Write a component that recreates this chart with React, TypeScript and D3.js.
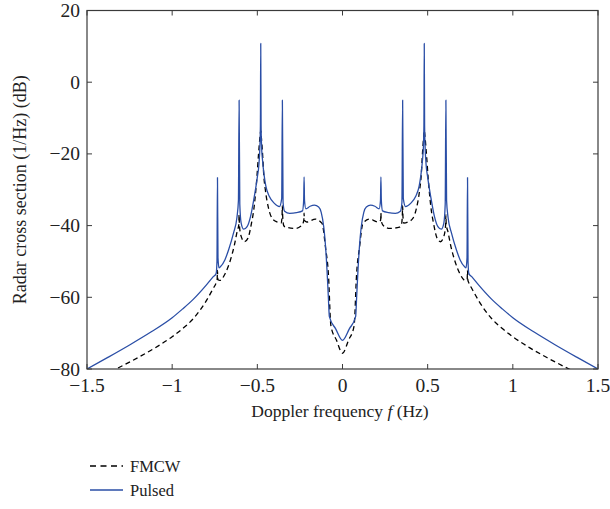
import React from "react";
import * as d3 from "d3";

// Pulsed series: [frequency (Hz), RCS (dB)]
const pulsed: [number, number][] = [
  [-1.5, -80], [-1.375, -76.7], [-1.25, -73.3], [-1.125, -69.7], [-1.0, -65.7], [-0.94, -63.3],
  [-0.875, -60.5], [-0.8, -56.6], [-0.76, -54.3],
  [-0.742, -53.4], [-0.737, -50], [-0.734, -26.6], [-0.731, -49], [-0.725, -51.8], [-0.717, -51.5],
  [-0.69, -49.5], [-0.669, -46.8], [-0.64, -42.1], [-0.62, -37.8], [-0.611, -33], [-0.607, -5],
  [-0.603, -34], [-0.595, -39.3], [-0.58, -41], [-0.56, -40.3], [-0.54, -37.5], [-0.52, -32.5],
  [-0.5, -26.5], [-0.49, -22.5], [-0.485, -18], [-0.482, -12], [-0.48, 10.8], [-0.478, -12],
  [-0.475, -18], [-0.47, -21.5], [-0.46, -26], [-0.45, -29], [-0.43, -31.8], [-0.4, -33.8],
  [-0.37, -34.7], [-0.357, -32.5], [-0.353, -5], [-0.349, -33.5], [-0.34, -36], [-0.31, -36.6],
  [-0.27, -36.4], [-0.235, -35.9], [-0.228, -33], [-0.2255, -26.4], [-0.223, -33], [-0.215, -35.3],
  [-0.19, -34.6], [-0.165, -34.3], [-0.14, -34.8], [-0.125, -36.3], [-0.11, -40.4], [-0.1, -45.5],
  [-0.091, -52.4], [-0.083, -60], [-0.077, -65.4], [-0.04, -68.8], [0, -72],
  [0.04, -68.8], [0.077, -65.4], [0.083, -60], [0.091, -52.4], [0.1, -45.5], [0.11, -40.4],
  [0.125, -36.3], [0.14, -34.8], [0.165, -34.3], [0.19, -34.6], [0.215, -35.3], [0.223, -33],
  [0.2255, -26.4], [0.228, -33], [0.235, -35.9], [0.27, -36.4], [0.31, -36.6], [0.34, -36],
  [0.349, -33.5], [0.353, -5], [0.357, -32.5], [0.37, -34.7], [0.4, -33.8], [0.43, -31.8],
  [0.45, -29], [0.46, -26], [0.47, -21.5], [0.475, -18], [0.478, -12], [0.48, 10.8],
  [0.482, -12], [0.485, -18], [0.49, -22.5], [0.5, -26.5], [0.52, -32.5], [0.54, -37.5],
  [0.56, -40.3], [0.58, -41], [0.595, -39.3], [0.603, -34], [0.607, -5], [0.611, -33],
  [0.62, -37.8], [0.64, -42.1], [0.669, -46.8], [0.69, -49.5], [0.717, -51.5], [0.725, -51.8],
  [0.731, -49], [0.734, -26.6], [0.737, -50], [0.742, -53.4],
  [0.76, -54.3], [0.8, -56.6], [0.875, -60.5], [0.94, -63.3], [1.0, -65.7], [1.125, -69.7],
  [1.25, -73.3], [1.375, -76.7], [1.5, -80],
];

// FMCW series: [frequency (Hz), RCS (dB)]
const fmcw: [number, number][] = [
  [-1.5, -83.6], [-1.33, -80], [-1.2, -76.8], [-1.1, -74.1], [-1.0, -71], [-0.94, -68.8],
  [-0.875, -65.9], [-0.8, -61], [-0.76, -57.6], [-0.742, -56], [-0.736, -55.2], [-0.734, -52.5],
  [-0.732, -55], [-0.72, -55.3],
  [-0.69, -53.5], [-0.658, -49.6], [-0.635, -45.5], [-0.618, -41.5], [-0.609, -39.8], [-0.607, -37],
  [-0.605, -40], [-0.595, -43], [-0.575, -44.5], [-0.555, -43.5], [-0.535, -39.5], [-0.521, -35.6],
  [-0.505, -28], [-0.492, -19.5], [-0.484, -15], [-0.48, -13.5], [-0.476, -15.5], [-0.468, -21],
  [-0.463, -25.4], [-0.453, -30], [-0.435, -35], [-0.413, -38], [-0.384, -39], [-0.36, -39.3],
  [-0.355, -37.5], [-0.353, -34.5], [-0.351, -37.5], [-0.345, -40], [-0.335, -40.4], [-0.277, -40.8],
  [-0.238, -39.9], [-0.227, -38.5], [-0.2255, -36.5], [-0.224, -38.5], [-0.21, -39], [-0.159, -38.2],
  [-0.12, -39.4], [-0.1, -46], [-0.081, -55], [-0.071, -66.3], [-0.068, -68], [-0.035, -72],
  [0, -75.6],
  [0.035, -72], [0.068, -68], [0.071, -66.3], [0.081, -55], [0.1, -46], [0.12, -39.4],
  [0.159, -38.2], [0.21, -39], [0.224, -38.5], [0.2255, -36.5], [0.227, -38.5], [0.238, -39.9],
  [0.277, -40.8], [0.335, -40.4], [0.345, -40], [0.351, -37.5], [0.353, -34.5], [0.355, -37.5],
  [0.36, -39.3], [0.384, -39], [0.413, -38], [0.435, -35], [0.453, -30], [0.463, -25.4],
  [0.468, -21], [0.476, -15.5], [0.48, -13.5], [0.484, -15], [0.492, -19.5], [0.505, -28],
  [0.521, -35.6], [0.535, -39.5], [0.555, -43.5], [0.575, -44.5], [0.595, -43], [0.605, -40],
  [0.607, -37], [0.609, -39.8], [0.618, -41.5], [0.635, -45.5], [0.658, -49.6], [0.69, -53.5],
  [0.72, -55.3], [0.732, -55], [0.734, -52.5], [0.736, -55.2], [0.742, -56], [0.76, -57.6],
  [0.8, -61], [0.875, -65.9], [0.94, -68.8], [1.0, -71], [1.1, -74.1], [1.2, -76.8],
  [1.33, -80], [1.5, -83.6],
];

const xTicks = [-1.5, -1, -0.5, 0, 0.5, 1, 1.5];
const yTicks = [-80, -60, -40, -20, 0, 20];
const legendLabels = ["FMCW", "Pulsed"];

const W = 610;
const H = 509;
const L = 87;
const R = 598;
const T = 10.5;
const B = 369;
const FONT = "'Liberation Serif', 'Times New Roman', serif";
const AXIS = "#3a3a3a";
const BLUE = "#2a4ea6";
const TXT = "#222";

const fmt = (v: number) => (v < 0 ? "\u2212" + String(-v) : String(v));

export default function App() {
  const x = d3.scaleLinear().domain([-1.5, 1.5]).range([L, R]);
  const y = d3.scaleLinear().domain([-80, 20]).range([B, T]);
  const line = d3
    .line<[number, number]>()
    .x((d) => x(d[0]))
    .y((d) => y(d[1]))
    .curve(d3.curveMonotoneX);

  const tl = 5;
  return (
    <svg
      width={W}
      height={H}
      style={{ position: "absolute", left: 0, top: 0, background: "#fff" }}
      fontFamily={FONT}
    >
      <defs>
        <clipPath id="plot">
          <rect x={L} y={T} width={R - L} height={B - T} />
        </clipPath>
      </defs>
      <g clipPath="url(#plot)" fill="none" strokeLinejoin="round">
        <path d={line(fmcw) || ""} stroke="#000" strokeWidth={1.3} strokeDasharray="5,3.5" />
        <path d={line(pulsed) || ""} stroke={BLUE} strokeWidth={1.3} />
      </g>
      <rect x={L} y={T} width={R - L} height={B - T} fill="none" stroke={AXIS} strokeWidth={1.2} />
      {xTicks.map((t) => (
        <g key={"x" + t}>
          <line x1={x(t)} x2={x(t)} y1={B} y2={B - tl} stroke={AXIS} strokeWidth={1} />
          <line x1={x(t)} x2={x(t)} y1={T} y2={T + tl} stroke={AXIS} strokeWidth={1} />
          <text x={x(t)} y={392} textAnchor="middle" fontSize={19.5} fill={TXT}>
            {fmt(t)}
          </text>
        </g>
      ))}
      {yTicks.map((t) => (
        <g key={"y" + t}>
          <line x1={L} x2={L + tl} y1={y(t)} y2={y(t)} stroke={AXIS} strokeWidth={1} />
          <line x1={R} x2={R - tl} y1={y(t)} y2={y(t)} stroke={AXIS} strokeWidth={1} />
          <text x={80} y={y(t) + 6.5} textAnchor="end" fontSize={19.5} fill={TXT}>
            {fmt(t)}
          </text>
        </g>
      ))}
      <text
        transform={`translate(26,${(T + B) / 2}) rotate(-90)`}
        textAnchor="middle"
        fontSize={18}
        fill={TXT}
      >
        Radar cross section (1/Hz) (dB)
      </text>
      <text x={340} y={417} textAnchor="middle" fontSize={17.5} fill={TXT}>
        Doppler frequency <tspan fontStyle="italic">f</tspan> (Hz)
      </text>
      <g>
        <line x1={90} x2={123} y1={466} y2={466} stroke="#000" strokeWidth={1.3} strokeDasharray="6,4.5" />
        <text x={130} y={471.5} fontSize={16.5} fill={TXT}>
          {legendLabels[0]}
        </text>
        <line x1={90} x2={123} y1={490} y2={490} stroke={BLUE} strokeWidth={1.3} />
        <text x={130} y={495.5} fontSize={16.5} fill={TXT}>
          {legendLabels[1]}
        </text>
      </g>
    </svg>
  );
}
